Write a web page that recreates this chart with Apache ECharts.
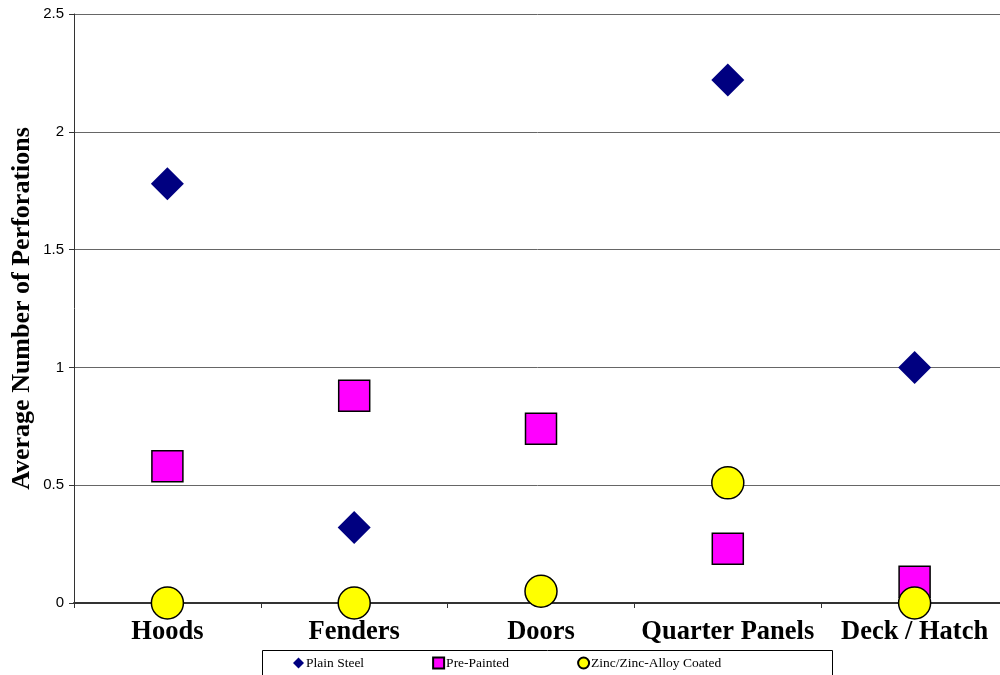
<!DOCTYPE html>
<html>
<head>
<meta charset="utf-8">
<script src="https://cdn.jsdelivr.net/npm/echarts@6/dist/echarts.min.js"></script>
<style>
html,body{margin:0;padding:0;background:#fff;}
#chart{width:1000px;height:675px;}
</style>
</head>
<body>
<div id="chart"></div>
<script>
// Body panel categories
const categories = ['Hoods', 'Fenders', 'Doors', 'Quarter Panels', 'Deck / Hatch'];
// Average perforations per panel, by steel type (null = no data)
const plainSteel = [1.78, 0.32, null, 2.22, 1.0];
const prePainted = [0.58, 0.88, 0.74, 0.23, 0.09];
const zincCoated = [0.0, 0.0, 0.05, 0.51, 0.0];
const yTicks = [0, 0.5, 1, 1.5, 2, 2.5];

const chart = echarts.init(document.getElementById('chart'));
const serif = '"Liberation Serif", "Times New Roman", serif';
const sans = '"Liberation Sans", Arial, sans-serif';

chart.setOption({
  animation: false,
  backgroundColor: '#ffffff',
  // plot area runs slightly past the right edge of the canvas
  grid: { left: 74, right: -8, top: 14, bottom: 72, containLabel: false, outerBoundsMode: 'none' },
  xAxis: {
    type: 'category',
    data: categories,
    boundaryGap: true,
    axisLine: { lineStyle: { color: '#333', width: 2 } },
    axisTick: { show: true, interval: 0, length: 5, lineStyle: { color: '#333', width: 1 } },
    axisLabel: {
      interval: 0, hideOverlap: false,
      fontFamily: serif, fontWeight: 'bold', fontSize: 26.5, color: '#000', margin: 16
    },
    splitLine: { show: false }
  },
  yAxis: {
    type: 'value',
    min: yTicks[0],
    max: yTicks[yTicks.length - 1],
    interval: 0.5,
    name: 'Average Number of Perforations',
    nameLocation: 'middle',
    nameGap: 39,
    nameMoveOverlap: false,
    nameRotate: 90,
    nameTextStyle: { fontFamily: serif, fontWeight: 'bold', fontSize: 26, color: '#000' },
    axisLine: { show: true, lineStyle: { color: '#333', width: 1 } },
    axisTick: { show: true, length: 5, lineStyle: { color: '#333' } },
    axisLabel: { fontFamily: sans, fontSize: 15, color: '#000', margin: 10 },
    splitLine: { show: true, lineStyle: { color: '#666', width: 1 } }
  },
  legend: {
    left: 293,
    top: 656,
    padding: 0,
    itemWidth: 11,
    itemHeight: 11,
    itemGap: 68,
    textStyle: { fontFamily: serif, fontSize: 13.5, color: '#000', padding: [0, 0, 0, -3] },
    data: ['Plain Steel', 'Pre-Painted', 'Zinc/Zinc-Alloy Coated']
  },
  graphic: [{
    type: 'rect',
    shape: { x: 262.5, y: 650.5, width: 570, height: 40 },
    style: { fill: 'none', stroke: '#000', lineWidth: 1 },
    z: -1
  }],
  series: [
    {
      name: 'Plain Steel',
      type: 'scatter',
      data: plainSteel,
      symbol: 'diamond',
      symbolSize: 33,
      itemStyle: { color: '#000080', borderColor: '#000080', borderWidth: 0, opacity: 1 },
      z: 3
    },
    {
      name: 'Pre-Painted',
      type: 'scatter',
      data: prePainted,
      symbol: 'rect',
      symbolSize: 31,
      itemStyle: { color: '#ff00ff', borderColor: '#000', borderWidth: 1.5, opacity: 1 },
      z: 4
    },
    {
      name: 'Zinc/Zinc-Alloy Coated',
      type: 'scatter',
      data: zincCoated,
      symbol: 'circle',
      symbolSize: 32,
      itemStyle: { color: '#ffff00', borderColor: '#000', borderWidth: 1.5, opacity: 1 },
      z: 5
    }
  ]
});
</script>
</body>
</html>
